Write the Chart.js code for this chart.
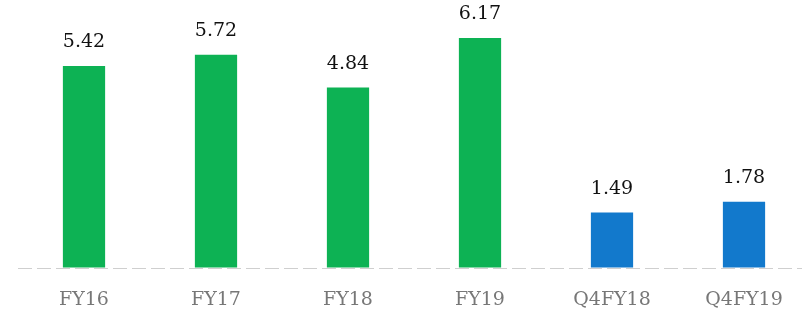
<!DOCTYPE html>
<html>
<head>
<meta charset="utf-8">
<script src="https://cdn.jsdelivr.net/npm/chart.js"></script>
<style>
  html, body { margin: 0; padding: 0; background: #fff; overflow: hidden; }
  #wrap { width: 810px; height: 315px; }
</style>
</head>
<body>
<div id="wrap"><canvas id="myChart"></canvas></div>
<script>
const labels = ["FY16", "FY17", "FY18", "FY19", "Q4FY18", "Q4FY19"];
const values = [5.42, 5.72, 4.84, 6.17, 1.49, 1.78];
const barColors = ['#0db254', '#0db254', '#0db254', '#0db254', '#1279cc', '#1279cc'];

// value labels on top of bars
const valueLabels = {
    id: 'valueLabels',
    afterDatasetsDraw(chart) {
        const ctx = chart.ctx;
        const meta = chart.getDatasetMeta(0);
        ctx.save();
        ctx.font = '19px "DejaVu Serif"';
        ctx.fillStyle = '#111';
        ctx.textAlign = 'center';
        ctx.textBaseline = 'bottom';
        meta.data.forEach((bar, i) => {
            ctx.fillText(values[i].toFixed(2), bar.x, bar.y - 14);
        });
        ctx.restore();
    }
};

const ctx = document.getElementById('myChart').getContext('2d');
const myChart = new Chart(ctx, {
    type: 'bar',
    data: {
        labels: labels,
        datasets: [{
            data: values,
            backgroundColor: barColors,
            barPercentage: 0.32,
            categoryPercentage: 1.0,
        }],
    },
    options: {
        responsive: true,
        maintainAspectRatio: false,
        animation: false,
        layout: { padding: { top: 7, left: 18, right: 0, bottom: 0 } },
        plugins: {
            legend: { display: false },
            tooltip: { enabled: false },
        },
        scales: {
            x: {
                grid: { display: false, drawTicks: false },
                border: { display: false },
                ticks: {
                    color: '#777',
                    padding: 21,
                    font: { family: '"DejaVu Serif"', size: 19 },
                },
                afterFit: (axis) => { axis.height = 47; },
            },
            y: {
                min: 0,
                max: 7,
                ticks: { display: false },
                border: { display: false, dash: [14, 5] },
                grid: {
                    drawTicks: false,
                    color: (c) => c.tick && c.tick.value === 0 ? '#cfcfcf' : 'rgba(0,0,0,0)',
                },
                afterFit: (axis) => { axis.width = 0; },
            },
        },
    },
    plugins: [valueLabels],
});
</script>
</body>
</html>
